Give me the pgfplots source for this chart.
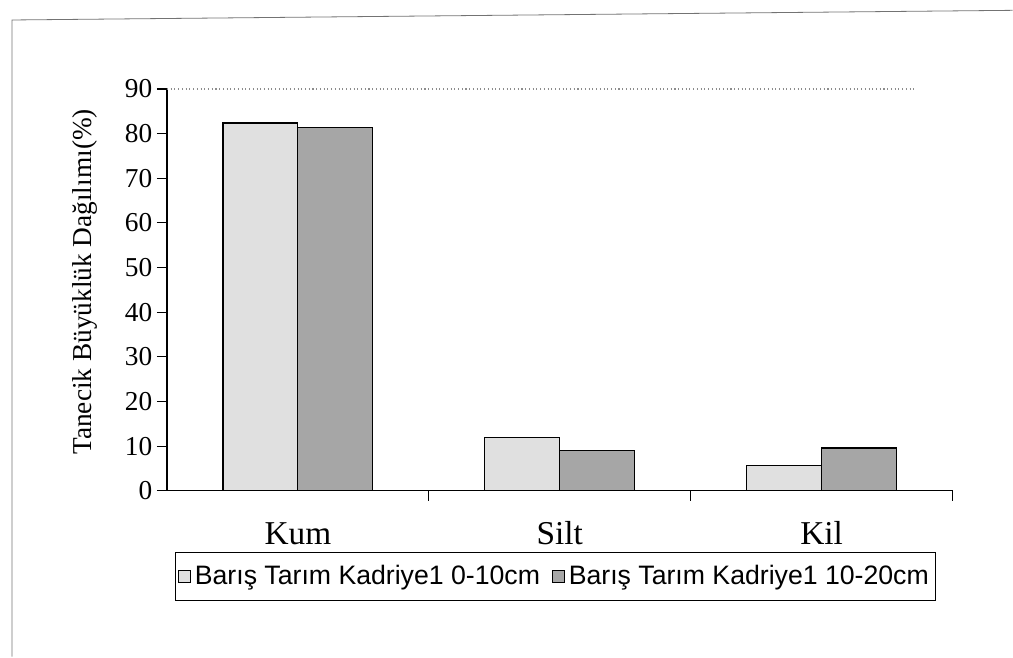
\documentclass[border=0pt]{standalone}
\usepackage{fontspec}
\setmainfont{Liberation Serif}
\newfontfamily\arialfont{Liberation Sans}
\usepackage{pgfplots}
\pgfplotsset{compat=1.18}
\begin{document}
\begin{tikzpicture}
% canvas 1013 x 657 px at 0.75pt per px
\path (0pt,0pt) rectangle (759.75pt,492.75pt);
% outer chart frame (scanned)
\draw[black!55, line width=0.6pt] (9pt,0pt) -- (9pt,477.75pt) -- (759.75pt,485pt);
\begin{axis}[
  at={(125.25pt,124.5pt)}, anchor=south west,
  width=589.5pt, height=301.5pt, scale only axis,
  xmin=-0.5, xmax=2.5, ymin=0, ymax=90,
  ybar=0pt, bar width=56.25pt,
  axis lines*=left,
  axis line style={-, black, line width=1pt},
  ytick={0,10,...,90},
  tick align=outside,
  major tick length=7.5pt,
  tick style={black, line width=0.8pt},
  xtick={0.5,1.5,2.5}, xticklabels={},
  extra x ticks={0,1,2},
  extra x tick labels={Kum,Silt,Kil},
  extra x tick style={major tick length=0pt, tick style={draw=none},
     tick label style={font=\fontsize{25}{30}\selectfont, anchor=base, yshift=-40pt}},
  /pgf/number format/assume math mode=true,
  yticklabel style={font=\fontsize{20.5}{24}\selectfont},
  ylabel={Tanecik Büyüklük Dağılımı(\%)},
  ylabel style={font=\fontsize{20.5}{24}\selectfont, at={(axis description cs:-0.104,0.52)}, anchor=center, rotate=0},
  legend columns=2,
  legend style={at={(axis description cs:0.0102,-0.152)}, anchor=north west,
     draw=black, line width=0.7pt, font=\arialfont\fontsize{20}{24}\selectfont,
     inner xsep=2pt, inner ysep=7pt,
     nodes={inner xsep=3pt, inner ysep=3pt},
     /tikz/every even column/.append style={column sep=6pt}},
  legend image code/.code={\draw[#1, line width=0.6pt] (0pt,-4.5pt) rectangle (9pt,4.5pt);},
  clip=false,
]
\addplot[draw=black, line width=0.9pt, fill=black!12] coordinates {(0,82.4) (1,12.0) (2,5.6)};
\addplot[draw=black, line width=0.9pt, fill=black!35] coordinates {(0,81.4) (1,9.0) (2,9.6)};
\legend{Barış Tarım Kadriye1 0-10cm, Barış Tarım Kadriye1 10-20cm}
\draw[black!45, dotted, line width=0.8pt] (axis cs:-0.5,90) -- (axis cs:2.35,90);
\end{axis}
\end{tikzpicture}
\end{document}
